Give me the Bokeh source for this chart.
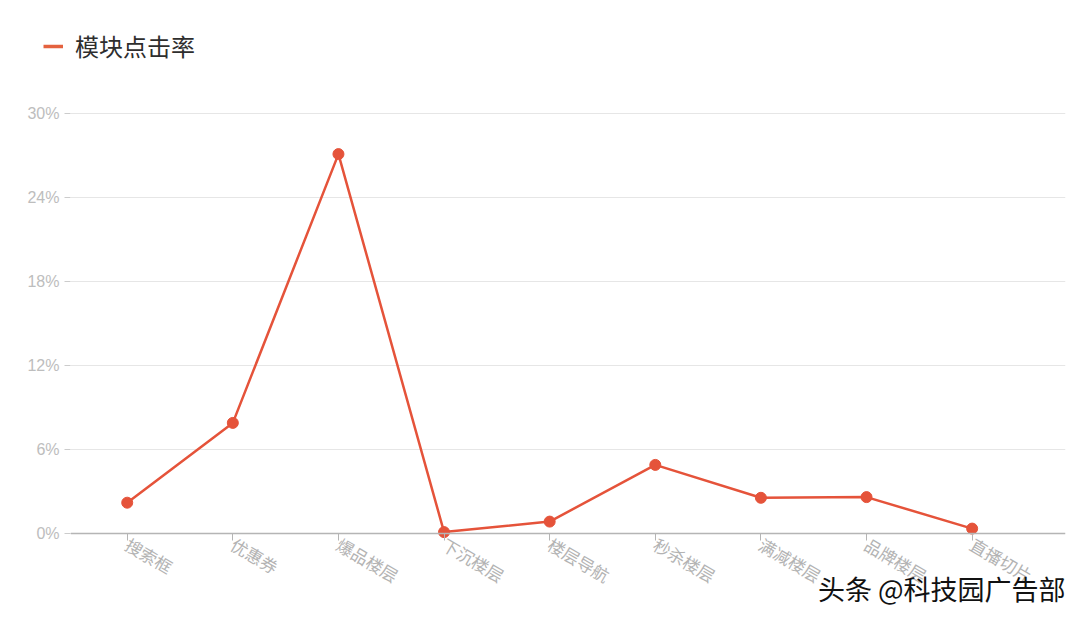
from bokeh.plotting import figure
from bokeh.layouts import column, row
from bokeh.models import (Range1d, FixedTicker, PrintfTickFormatter, Legend, LegendItem,
                          Span, Title)
from bokeh.embed import file_html
from bokeh.resources import INLINE

categories = ["搜索框", "优惠券", "爆品楼层", "下沉楼层", "楼层导航", "秒杀楼层", "满减楼层", "品牌楼层", "直播切片"]
click_rate = [2.2, 7.9, 27.1, 0.1, 0.85, 4.9, 2.55, 2.6, 0.35]
y_ticks = [0, 6, 12, 18, 24, 30]
series_name = "模块点击率"
watermark = "头条 @科技园广告部"

FONT = "Noto Sans CJK SC"
RED = "#e5533a"

xs = list(range(len(categories)))

# ---- legend strip on top ----
top = figure(width=1072, height=103, output_backend="svg", toolbar_location=None,
             x_axis_type=None, y_axis_type=None,
             min_border_left=0, min_border_right=0, min_border_top=0, min_border_bottom=0,
             x_range=Range1d(0, 1), y_range=Range1d(0, 1))
top.outline_line_color = None
top.xgrid.grid_line_color = None
top.ygrid.grid_line_color = None
legend_line = top.line([5, 6], [5, 6], line_color="#e4623f", line_width=3.5)
legend = Legend(items=[LegendItem(label=series_name, renderers=[legend_line])],
                location=(43, 40), orientation="horizontal",
                label_text_font=FONT, label_text_font_size="24px", label_text_color="#2e2e2e",
                glyph_width=20, glyph_height=24, label_standoff=12,
                border_line_color=None, background_fill_alpha=0,
                margin=0, padding=0)
top.add_layout(legend, "center")

# ---- main chart ----
p = figure(width=1072, height=513, output_backend="svg", toolbar_location=None,
           x_range=Range1d(-0.537, 8.884), y_range=Range1d(-0.5, 30.714),
           min_border_left=70, min_border_right=7, min_border_top=0, min_border_bottom=76)
p.outline_line_color = None
p.background_fill_color = "white"
p.border_fill_color = "white"

p.line(xs, click_rate, line_color=RED, line_width=2.5)
p.scatter(xs, click_rate, size=11, fill_color=RED, line_color=RED)

p.add_layout(Span(location=0, dimension="width", line_color="#b5b5b5", line_width=1.5))

# y axis
p.yaxis.ticker = FixedTicker(ticks=y_ticks)
p.yaxis.formatter = PrintfTickFormatter(format="%d%%")
p.yaxis.axis_line_color = None
p.yaxis.major_tick_line_color = "#cccccc"
p.yaxis.major_tick_out = 6
p.yaxis.major_tick_in = 0
p.yaxis.minor_tick_line_color = None
p.yaxis.major_label_text_color = "#bdbdbd"
p.yaxis.major_label_text_font = "Liberation Sans"
p.yaxis.major_label_text_font_size = "16px"
p.yaxis.major_label_standoff = 5
p.ygrid.ticker = FixedTicker(ticks=y_ticks[1:])
p.ygrid.grid_line_color = "#e6e6e6"
p.ygrid.grid_line_width = 1

# x axis
p.xaxis.ticker = FixedTicker(ticks=xs)
p.xaxis.major_label_overrides = {i: c for i, c in enumerate(categories)}
p.xaxis.axis_line_color = None
p.xaxis.major_tick_line_color = "#b5b5b5"
p.xaxis.major_tick_in = 7
p.xaxis.major_tick_out = 0
p.xaxis.minor_tick_line_color = None
p.xaxis.major_label_orientation = -0.53
p.xaxis.major_label_text_color = "#b3b3b3"
p.xaxis.major_label_text_font = FONT
p.xaxis.major_label_text_font_size = "17px"
p.xaxis.major_label_standoff = 2
p.xgrid.grid_line_color = None

p.add_layout(Title(text=watermark, text_font=FONT, text_font_size="27px", text_font_style="normal",
                   text_color="#111111", align="right", vertical_align="top",
                   offset=0, standoff=-65), "below")

layout = column(row(top), p, spacing=0)
open("out.html", "w").write(file_html(layout, INLINE))
